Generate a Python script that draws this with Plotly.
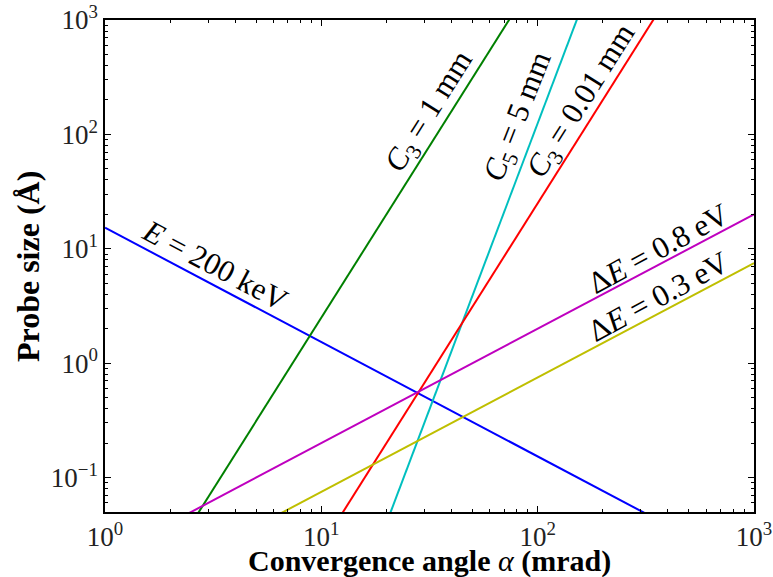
import plotly.graph_objects as go

# Convergence semi-angle (mrad) at the two ends of each straight log-log line
alpha_mrad = [1, 1000]

# Probe-size contributions (Å)
d_diffraction_200keV = [15.3, 0.0153]
d_spherical_c3_1mm = [2.5e-3, 2.5e6]
d_spherical_c5_5mm = [1.25e-8, 1.25e7]
d_spherical_c3_001mm = [2.5e-5, 2.5e4]
d_chromatic_08eV = [0.02, 20.0]
d_chromatic_03eV = [0.0075, 7.5]

series = [
    (d_diffraction_200keV, "#0000ff"),
    (d_spherical_c3_1mm, "#008000"),
    (d_spherical_c5_5mm, "#00bfbf"),
    (d_spherical_c3_001mm, "#ff0000"),
    (d_chromatic_08eV, "#bf00bf"),
    (d_chromatic_03eV, "#bfbf00"),
]

FONT = "Liberation Serif"

fig = go.Figure()
for d, color in series:
    fig.add_trace(go.Scatter(x=alpha_mrad, y=d, mode="lines",
                             line=dict(color=color, width=2),
                             showlegend=False, hoverinfo="skip"))

major_x = [1, 10, 100, 1000]
major_y = [0.1, 1, 10, 100, 1000]
minor_x = [m * 10 ** k for k in range(0, 3) for m in range(2, 10)]
minor_y = [m * 10 ** k for k in range(-2, 3) for m in range(2, 10) if m * 10 ** k >= 0.05]

axis_common = dict(
    type="log", showgrid=False, zeroline=False, automargin=False,
    showline=True, linecolor="black", linewidth=1.5, mirror="allticks",
    ticks="inside", ticklen=6, tickwidth=1, tickcolor="black",
    tickfont=dict(family=FONT, size=27, color="#222"),
)

fig.update_xaxes(
    **axis_common, range=[0, 3],
    tickvals=major_x,
    ticktext=["10<sup>0</sup>", "10<sup>1</sup>", "10<sup>2</sup>", "10<sup>3</sup>"],
    minor=dict(tickvals=minor_x, ticks="inside", ticklen=3, tickcolor="black", showgrid=False),
)
fig.update_yaxes(
    **axis_common, range=[-1.30103, 3],
    tickvals=major_y,
    ticktext=["10<sup>−1</sup>", "10<sup>0</sup>", "10<sup>1</sup>", "10<sup>2</sup>", "10<sup>3</sup>"],
    minor=dict(tickvals=minor_y, ticks="inside", ticklen=3, tickcolor="black", showgrid=False),
)

# Axis titles
fig.add_annotation(text="<b>Convergence angle </b><i>α</i><b> (mrad)</b>",
                   xref="paper", yref="paper", x=0.5, y=-0.099,
                   xanchor="center", yanchor="middle", showarrow=False,
                   font=dict(family=FONT, size=30, color="black"))
fig.add_annotation(text="<b>Probe size (Å)</b>", textangle=-90,
                   xref="paper", yref="paper", x=-0.1186, y=0.498,
                   xanchor="center", yanchor="middle", showarrow=False,
                   font=dict(family=FONT, size=32, color="black"))

# Line labels, rotated along each line (positions in log10 data units)
labels = [
    ("<i>E</i> = 200 keV", 0.513, 0.857, 27.9),
    ("<i>C</i><sub>3</sub> = 1 mm", 1.503, 2.195, -57.7),
    ("<i>C</i><sub>5</sub> = 5 mm", 1.914, 2.151, -68.5),
    ("<i>C</i><sub>3</sub> = 0.01 mm", 2.205, 2.283, -57.7),
    ("Δ<i>E</i> = 0.8 eV", 2.557, 1.005, -28.5),
    ("Δ<i>E</i> = 0.3 eV", 2.557, 0.585, -28.5),
]
for text, x, y, ang in labels:
    fig.add_annotation(x=x, y=y, xref="x", yref="y", text=text, showarrow=False,
                       textangle=ang, xanchor="center", yanchor="middle",
                       font=dict(family=FONT, size=31, color="black"))

fig.update_layout(
    width=773, height=577,
    margin=dict(l=105, r=19, t=20, b=65),
    paper_bgcolor="white", plot_bgcolor="white",
)

fig.write_html("out.html")
